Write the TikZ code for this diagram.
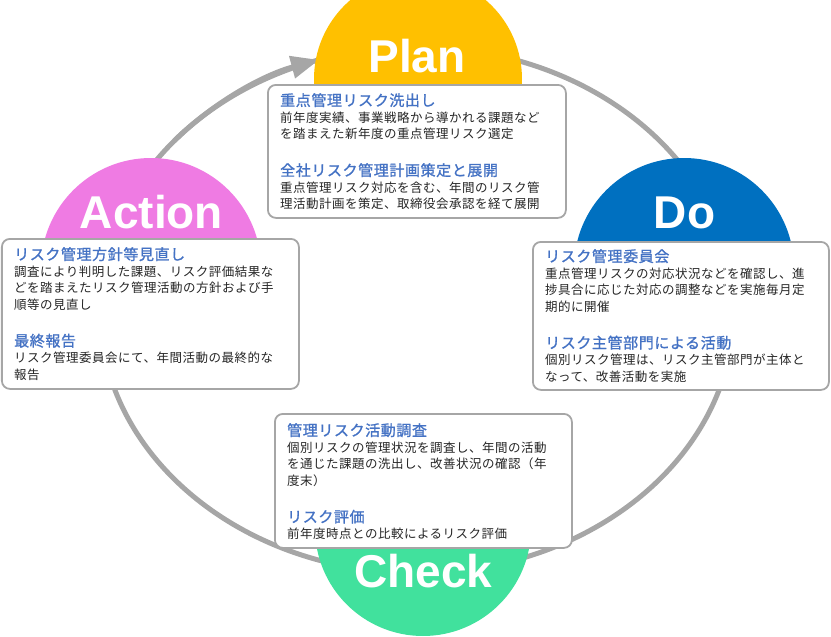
\documentclass[tikz,border=0pt]{standalone}
\usepackage{fontspec}
\usepackage{xcolor}
\usepackage{tikz}
\usetikzlibrary{arrows.meta, positioning}
\newfontfamily\jpfont[LetterSpace=4]{Noto Sans CJK JP}
\newfontfamily\jphead[LetterSpace=4,FakeBold=1.2]{Noto Sans CJK JP}
\newfontfamily\pdcafont{Liberation Sans}
\definecolor{planyellow}{HTML}{FFC000}
\definecolor{doblue}{HTML}{0070C0}
\definecolor{checkgreen}{HTML}{41E19D}
\definecolor{actionpink}{HTML}{EF7BE3}
\definecolor{ringgray}{HTML}{A6A6A6}
\definecolor{headblue}{HTML}{4472C4}
\definecolor{bodytext}{HTML}{262626}
\tikzstyle{ring}=[draw=ringgray,line width=5pt]
\tikzstyle{phase}=[circle,inner sep=0pt,draw=none]
\tikzstyle{phaselabel}=[anchor=base,text=white,inner sep=0pt,
  font=\pdcafont\bfseries\fontsize{46}{46}\selectfont]
\tikzstyle{card}=[rectangle,draw=ringgray,line width=1.8pt,fill=white,
  rounded corners=8pt,anchor=north west,inner sep=0pt]
\tikzstyle{cardtext}=[anchor=north west,inner sep=0pt,align=left,
  text=bodytext,font=\jpfont\fontsize{12.5}{16.5}\selectfont]
\newcommand{\cardhead}[1]{{\jphead\fontsize{15}{16.5}\selectfont\color{headblue}#1}}

\begin{document}
\begin{tikzpicture}[x=1pt,y=-1pt]
  \useasboundingbox (0,0) rectangle (831,637);
  \clip (0,0) rectangle (831,637);
  % cycle ring
  \draw[ring] (417,310) ellipse [x radius=317, y radius=263];
  \draw[ring,-{Triangle[length=28pt,width=22pt]}] (417,310) ++(-140:317 and 263)
    arc[start angle=-140, end angle=-108, x radius=317, y radius=263];
  % phase circles
  \node[phase,fill=planyellow,minimum size=208pt] (plan) at (418,79) {};
  \node[phase,fill=actionpink,minimum size=220pt] (action) at (151,268) {};
  \node[phase,fill=doblue,minimum size=220pt] (do) at (684,268) {};
  \node[phase,fill=checkgreen,minimum size=216pt] (check) at (423,528) {};
  \node[phaselabel] (planlabel) at (417,72) {Plan};
  \node[phaselabel] (actionlabel) at (151.5,228) {Action};
  \node[phaselabel] (dolabel) at (684.5,228) {Do};
  \node[phaselabel] (checklabel) at (423.5,587) {Check};
  % cards
  \node[card,minimum width=298pt,minimum height=133pt] (plancard) at (267,84) {};
  \node[card,minimum width=297pt,minimum height=150pt] (actioncard) at (1,238) {};
  \node[card,minimum width=296pt,minimum height=148pt] (docard) at (532,241) {};
  \node[card,minimum width=297pt,minimum height=134pt] (checkcard) at (274,413) {};
  \node[cardtext,below right=9pt and 13pt of plancard.north west] (plantext)
    {\cardhead{重点管理リスク洗出し}\\
     前年度実績、事業戦略から導かれる課題など\\
     を踏まえた新年度の重点管理リスク選定\\[20.5pt]
     \cardhead{全社リスク管理計画策定と展開}\\
     重点管理リスク対応を含む、年間のリスク管\\
     理活動計画を策定、取締役会承認を経て展開};
  \node[cardtext,below right=9pt and 13pt of actioncard.north west] (actiontext)
    {\cardhead{リスク管理方針等見直し}\\
     調査により判明した課題、リスク評価結果な\\
     どを踏まえたリスク管理活動の方針および手\\
     順等の見直し\\[20.5pt]
     \cardhead{最終報告}\\
     リスク管理委員会にて、年間活動の最終的な\\
     報告};
  \node[cardtext,below right=8pt and 13pt of docard.north west] (dotext)
    {\cardhead{リスク管理委員会}\\
     重点管理リスクの対応状況などを確認し、進\\
     捗具合に応じた対応の調整などを実施毎月定\\
     期的に開催\\[20.5pt]
     \cardhead{リスク主管部門による活動}\\
     個別リスク管理は、リスク主管部門が主体と\\
     なって、改善活動を実施};
  \node[cardtext,below right=10pt and 13pt of checkcard.north west] (checktext)
    {\cardhead{管理リスク活動調査}\\
     個別リスクの管理状況を調査し、年間の活動\\
     を通じた課題の洗出し、改善状況の確認（年\\
     度末）\\[20.5pt]
     \cardhead{リスク評価}\\
     前年度時点との比較によるリスク評価};
\end{tikzpicture}
\end{document}
